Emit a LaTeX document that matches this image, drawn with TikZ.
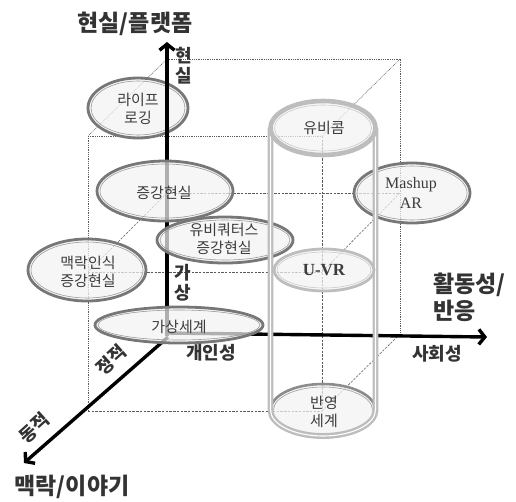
\documentclass[tikz,border=0pt]{standalone}
\usepackage{fontspec}
\setmainfont{Liberation Serif}
\newfontfamily\kr{Noto Sans CJK KR}
\usetikzlibrary{arrows.meta}
\definecolor{ringdark}{HTML}{777777}
\definecolor{ringin}{HTML}{9A9A9A}
\definecolor{ringmid}{HTML}{8C8C8C}
\definecolor{ringlight}{HTML}{BDBDBD}
\definecolor{ringlightin}{HTML}{CACACA}
\definecolor{fillg}{HTML}{F3F3F3}
\definecolor{txt}{HTML}{3C3C3C}
\definecolor{lab}{HTML}{333333}
\definecolor{cubec}{HTML}{5A5A5A}
\newcommand\dring[3]{%
  \fill[fillg, fill opacity=0.72] #1 ellipse [x radius={#2*1pt}, y radius={#3*1pt}];
  \draw[ringdark, line width=2.8pt] #1 ellipse [x radius={#2*1pt}, y radius={#3*1pt}];
  \draw[ringin, line width=0.6pt] #1 ellipse [x radius={(#2-3)*1pt}, y radius={(#3-3)*1pt}];
}
\begin{document}
\begin{tikzpicture}[x=1pt,y=-1pt,
  cubedot/.style={draw=cubec, line width=0.55pt, dash pattern=on 0.9pt off 0.9pt},
  cubedash/.style={draw=cubec, line width=0.55pt, dash pattern=on 2.4pt off 1.3pt},
  axisline/.style={draw=black, line width=3.4pt, -{Straight Barb[length=6pt,width=15pt]}},
  elltext/.style={font=\kr\fontsize{15}{18.5}\selectfont, text=txt, align=center, inner sep=0pt},
  axlabel/.style={font=\kr\bfseries\fontsize{18}{20}\selectfont, text=lab, inner sep=0pt},
  titlelab/.style={font=\kr\bfseries\fontsize{23}{26}\selectfont, text=lab, inner sep=0pt},
  latin/.style={font=\fontsize{16}{20}\selectfont, text=txt, align=center, inner sep=0pt},
]
\useasboundingbox (0,0) rectangle (516,501);

% cube corners
\coordinate (BTL) at (167,59);
\coordinate (BTR) at (400,59);
\coordinate (BBR) at (400,334);
\coordinate (FTL) at (88,136);
\coordinate (FTR) at (322,136);
\coordinate (FBL) at (88,411);
\coordinate (FBR) at (322,411);
\coordinate (BML) at (167,193);
\coordinate (BMR) at (400,193);
\coordinate (FML) at (88,272);
\coordinate (FMR) at (322,272);

\draw[cubedot] (BTL) -- (BTR) -- (BBR);
\draw[cubedot] (FTL) -- (FTR);
\draw[cubedot] (FTL) -- (FBL);
\draw[cubedash] (FBL) -- (FBR);
\draw[cubedash] (FTR) -- (FBR);
\draw[cubedot] (BTL) -- (FTL);
\draw[cubedot] (BTR) -- (FTR);
\draw[cubedash] (BBR) -- (FBR);
\draw[cubedash] (BML) -- (BMR);
\draw[cubedash] (BMR) -- (FMR);
\draw[cubedash] (FML) -- (FMR);
\draw[cubedash] (BML) -- (FML);

% lifelogging ellipse (under the axis)
\dring{(138,108)}{50}{30}

% axes
\coordinate (O) at (167,333);
\coordinate (Obot) at (167,336);
\coordinate (Oz) at (168,337);
\coordinate (Ytip) at (167,42);
\coordinate (Xtip) at (487,337);
\coordinate (Ztip) at (24,463);
\draw[axisline] (Obot) -- (Ytip);
\draw[axisline] (O) -- (Xtip);
\draw[axisline] (Oz) -- (Ztip);

% ellipses over the axes
\dring{(165,191)}{68}{30}
\dring{(225,240)}{68}{23}
\dring{(87,270)}{59}{31}
\dring{(179,325)}{84}{18}
\dring{(412,193)}{58}{30}

% cylinder
\fill[fillg, fill opacity=0.72] (323,410) ellipse [x radius=52.5pt, y radius=26pt];
\draw[ringmid, line width=2.6pt] (375.5,410) arc[start angle=0, end angle=180, x radius=52.5pt, y radius=26pt];
\draw[ringin, line width=0.6pt] (372.5,410) arc[start angle=0, end angle=180, x radius=49.5pt, y radius=23pt];
\draw[ringlight, line width=2.4pt, double=white, double distance=1.1pt]
  (270.5,128) -- (270.5,410) arc[start angle=180, end angle=360, x radius=52.5pt, y radius=26pt] -- (375.5,128);
\fill[fillg, fill opacity=0.72] (323,128) ellipse [x radius=52.5pt, y radius=27pt];
\draw[ringlight, line width=4.6pt] (323,128) ellipse [x radius=52.5pt, y radius=27pt];
\draw[ringlightin, line width=0.6pt] (323,128) ellipse [x radius=48.5pt, y radius=23pt];
\fill[fillg, fill opacity=0.72] (324,270) ellipse [x radius=50pt, y radius=21pt];
\draw[ringlight, line width=2.8pt] (324,270) ellipse [x radius=50pt, y radius=21pt];
\draw[ringlightin, line width=0.6pt] (324,270) ellipse [x radius=47pt, y radius=18pt];

% ellipse texts
\node[elltext] (lifelog) at (138,109) {라이프\\로깅};
\node[elltext] (ar) at (164,193) {증강현실};
\node[elltext] (uar) at (224,239) {유비쿼터스\\증강현실};
\node[elltext] (car) at (88,272) {맥락인식\\증강현실};
\node[elltext] (vw) at (179,327) {가상세계};
\node[latin] (mash) at (411,193) {Mashup\\AR};
\node[latin, font=\bfseries\fontsize{17}{20}\selectfont] (uvr) at (324,270) {U-VR};
\node[elltext] (ubi) at (324,128) {유비콤};
\node[elltext] (mirror) at (324,412) {반영\\세계};

% axis labels
\node[titlelab] (tY) at (135,24) {현실/플랫폼};
\node[titlelab, anchor=west] (tX1) at (433,285) {활동성/};
\node[titlelab, anchor=west] (tX2) at (433,311) {반응};
\node[titlelab] (tZ) at (72,487) {맥락/이야기};
\node[axlabel] (lh1) at (184,56) {현};
\node[axlabel] (lh2) at (184,76) {실};
\node[axlabel] (lv1) at (183,273) {가};
\node[axlabel] (lv2) at (183,293) {상};
\node[axlabel] (lper) at (211,353) {개인성};
\node[axlabel] (lsoc) at (437,354) {사회성};
\node[axlabel, rotate=42] (lsta) at (111,360) {정적};
\node[axlabel, rotate=42] (ldyn) at (34,428) {동적};
\end{tikzpicture}
\end{document}
